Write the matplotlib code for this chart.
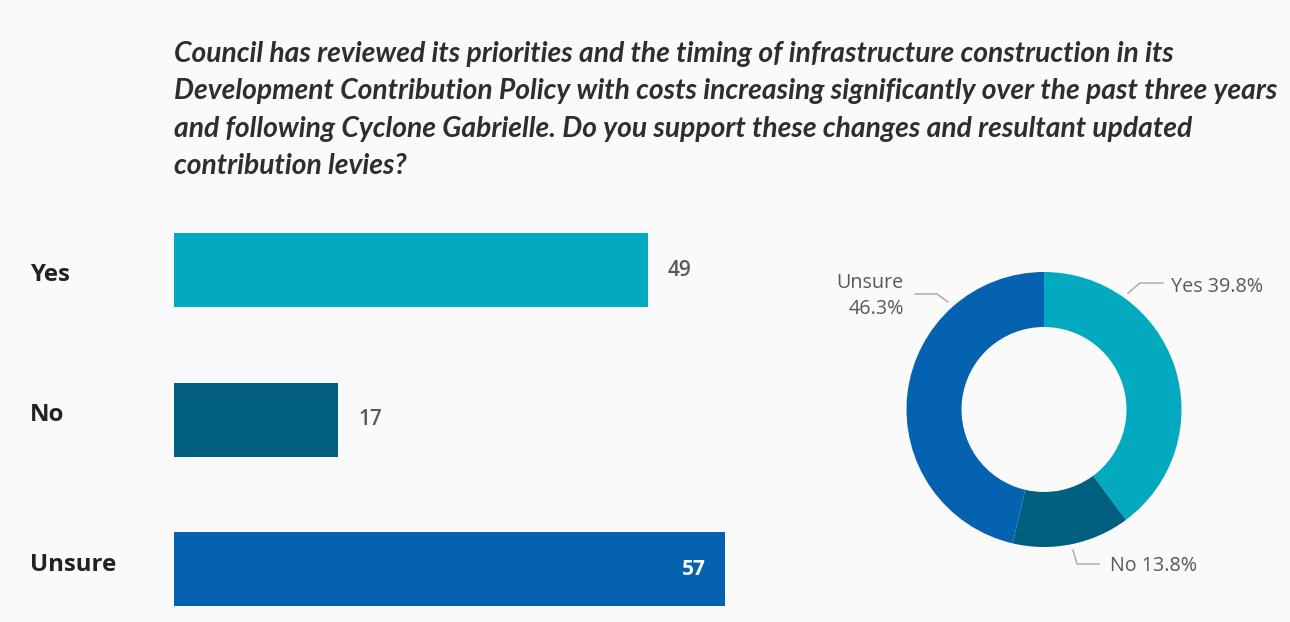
import matplotlib
matplotlib.use("Agg")
import matplotlib.pyplot as plt
from matplotlib.transforms import blended_transform_factory

categories = ["Yes", "No", "Unsure"]
counts = [49, 17, 57]
colors = ["#03AABF", "#015F80", "#0462B1"]

title_lines = [
    "Council has reviewed its priorities and the timing of infrastructure construction in its",
    "Development Contribution Policy with costs increasing significantly over the past three years",
    "and following Cyclone Gabrielle. Do you support these changes and resultant updated",
    "contribution levies?",
]

W, H = 1290, 622
BG = "#fafafa"
fig = plt.figure(figsize=(W / 100, H / 100), dpi=100, facecolor=BG)


def fx(px):
    return px / W


def fy(py):
    return 1 - py / H


# Title block
for i, line in enumerate(title_lines):
    fig.text(fx(174), fy(54 + 37.5 * i), line, fontsize=20.3, fontfamily="Lato",
             fontweight="bold", fontstyle="italic", color="#2e2e2e",
             va="center", ha="left")

# Horizontal bar chart
ax = fig.add_axes([fx(174), fy(621.3), fx(599.5), (621.3 - 195.75) / H])
ax.set_facecolor("none")
ypos = list(range(len(categories)))
ax.barh(ypos, counts, height=0.495, color=colors)
ax.set_xlim(0, 62)
ax.set_ylim(2.35, -0.5)
ax.axis("off")

# small vertical nudges for the category names (data units)
name_nudge = [0.03, -0.03, -0.03]
label_tf = blended_transform_factory(fig.transFigure, ax.transData)
for y, cat, dy in zip(ypos, categories, name_nudge):
    ax.text(fx(30), y + dy, cat, transform=label_tf, fontsize=17.3,
            fontfamily="Open Sans", fontweight="bold", color="#222222",
            va="center", ha="left")

for y, v in zip(ypos, counts):
    if v == max(counts):
        ax.annotate(str(v), (v, y), xytext=(-19, 0), textcoords="offset pixels",
                    ha="right", va="center", fontsize=15, fontfamily="Open Sans",
                    fontweight="bold", color="white")
    else:
        ax.annotate(str(v), (v, y), xytext=(20, 0), textcoords="offset pixels",
                    ha="left", va="center", fontsize=15, fontfamily="Open Sans",
                    fontweight="semibold", color="#595959")

# Donut chart
cx, cy, R = 1044, 409.5, 137.5
L = 1.45
side = 2 * L * R
dax = fig.add_axes([fx(cx - side / 2), fy(cy + side / 2), fx(side), side / H])
dax.set_facecolor("none")
dax.pie(counts, colors=colors, startangle=90, counterclock=False,
        radius=1.0, wedgeprops=dict(width=0.4, linewidth=0))
dax.set_xlim(-L, L)
dax.set_ylim(-L, L)
dax.set_aspect("equal")
dax.axis("off")

total = sum(counts)
pcts = [100 * c / total for c in counts]


def d(px, py):
    return ((px - cx) / R, (cy - py) / R)


lead = dict(color="#a6a6a6", lw=1.0, clip_on=False)
lab = dict(fontsize=14.2, fontfamily="Open Sans", color="#595959")

xs, ys = zip(d(1128, 293), d(1140, 283), d(1163, 283))
dax.plot(xs, ys, **lead)
tx, ty = d(1171, 287)
dax.text(tx, ty, f"{categories[0]} {pcts[0]:.1f}%", ha="left", va="center", **lab)

xs, ys = zip(d(1073, 550), d(1077, 564), d(1099, 564))
dax.plot(xs, ys, **lead)
tx, ty = d(1110, 566)
dax.text(tx, ty, f"{categories[1]} {pcts[1]:.1f}%", ha="left", va="center", **lab)

xs, ys = zip(d(915, 294), d(937, 294), d(948, 302))
dax.plot(xs, ys, **lead)
tx, ty = d(904, 296)
dax.text(tx, ty, f"{categories[2]}\n{pcts[2]:.1f}%", ha="right", va="center",
         multialignment="right", linespacing=1.4, **lab)

fig.savefig("out.png", dpi=100, facecolor=BG)
